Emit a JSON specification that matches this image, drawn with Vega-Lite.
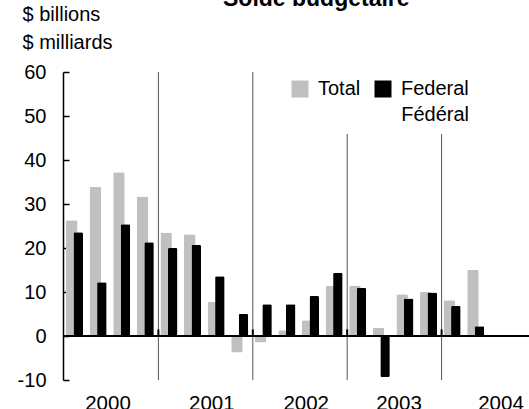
{
  "$schema": "https://vega.github.io/schema/vega-lite/v6.json",
  "autosize": {"type": "none"},
  "padding": {"left": 63, "top": 72, "right": 0, "bottom": 29},
  "width": 466,
  "height": 308,
  "config": {"font": "Liberation Sans", "view": {"stroke": null}},
  "title": {
    "text": "Solde budgétaire",
    "fontSize": 23,
    "fontWeight": "bold",
    "anchor": "start",
    "frame": "group",
    "dx": 160,
    "dy": 24,
    "baseline": "alphabetic",
    "offset": 0,
    "color": "#000000"
  },
  "data": {
    "values": [
      {"quarter": "2000Q1", "series": "Total", "value": 26.3},
      {"quarter": "2000Q1", "series": "Federal", "value": 23.6},
      {"quarter": "2000Q2", "series": "Total", "value": 33.9},
      {"quarter": "2000Q2", "series": "Federal", "value": 12.2},
      {"quarter": "2000Q3", "series": "Total", "value": 37.2},
      {"quarter": "2000Q3", "series": "Federal", "value": 25.4},
      {"quarter": "2000Q4", "series": "Total", "value": 31.7},
      {"quarter": "2000Q4", "series": "Federal", "value": 21.3},
      {"quarter": "2001Q1", "series": "Total", "value": 23.5},
      {"quarter": "2001Q1", "series": "Federal", "value": 20.0},
      {"quarter": "2001Q2", "series": "Total", "value": 23.1},
      {"quarter": "2001Q2", "series": "Federal", "value": 20.7},
      {"quarter": "2001Q3", "series": "Total", "value": 7.7},
      {"quarter": "2001Q3", "series": "Federal", "value": 13.6},
      {"quarter": "2001Q4", "series": "Total", "value": -3.75},
      {"quarter": "2001Q4", "series": "Federal", "value": 5.0},
      {"quarter": "2002Q1", "series": "Total", "value": -1.5},
      {"quarter": "2002Q1", "series": "Federal", "value": 7.2},
      {"quarter": "2002Q2", "series": "Total", "value": 1.3},
      {"quarter": "2002Q2", "series": "Federal", "value": 7.2},
      {"quarter": "2002Q3", "series": "Total", "value": 3.6},
      {"quarter": "2002Q3", "series": "Federal", "value": 9.1},
      {"quarter": "2002Q4", "series": "Total", "value": 11.4},
      {"quarter": "2002Q4", "series": "Federal", "value": 14.4},
      {"quarter": "2003Q1", "series": "Total", "value": 11.4},
      {"quarter": "2003Q1", "series": "Federal", "value": 10.9},
      {"quarter": "2003Q2", "series": "Total", "value": 1.9},
      {"quarter": "2003Q2", "series": "Federal", "value": -9.3},
      {"quarter": "2003Q3", "series": "Total", "value": 9.5},
      {"quarter": "2003Q3", "series": "Federal", "value": 8.5},
      {"quarter": "2003Q4", "series": "Total", "value": 10.0},
      {"quarter": "2003Q4", "series": "Federal", "value": 9.9},
      {"quarter": "2004Q1", "series": "Total", "value": 8.1},
      {"quarter": "2004Q1", "series": "Federal", "value": 6.8},
      {"quarter": "2004Q2", "series": "Total", "value": 15.0},
      {"quarter": "2004Q2", "series": "Federal", "value": 2.2}
    ]
  },
  "encoding": {
    "x": {
      "field": "quarter",
      "type": "nominal",
      "sort": null,
      "scale": {
        "domain": ["2000Q1","2000Q2","2000Q3","2000Q4","2001Q1","2001Q2","2001Q3","2001Q4","2002Q1","2002Q2","2002Q3","2002Q4","2003Q1","2003Q2","2003Q3","2003Q4","2004Q1","2004Q2","2004Q3","2004Q4"],
        "range": [1, 473],
        "paddingInner": 0,
        "paddingOuter": 0
      },
      "axis": {
        "title": null,
        "domain": false,
        "ticks": false,
        "labelAngle": 0,
        "labelFontSize": 20.5,
        "labelColor": "#000000",
        "labelPadding": 13,
        "labelBaseline": "top",
        "labelExpr": "indexof(datum.value, 'Q2') > 0 ? substring(datum.value, 0, 4) : ''",
        "labelOffset": {
          "condition": [
            {"test": "datum.value == '2000Q2'", "value": 8.6},
            {"test": "datum.value == '2003Q2'", "value": 16.4},
            {"test": "datum.value == '2004Q2'", "value": 24}
          ],
          "value": 18
        }
      }
    }
  },
  "layer": [
    {
      "transform": [
        {"filter": "datum.series == 'Total' && indexof(datum.quarter, 'Q1') > 0 && datum.quarter != '2000Q1'"}
      ],
      "mark": {"type": "rule", "color": "#555555", "strokeWidth": 1},
      "encoding": {
        "x": {"field": "quarter", "type": "nominal", "bandPosition": 0}
      }
    },
    {
      "transform": [{"filter": "datum.series == 'Total'"}],
      "mark": {"type": "bar", "width": 11.5, "xOffset": -4.05, "cornerRadius": 1.5},
      "encoding": {
        "y": {
          "field": "value",
          "type": "quantitative",
          "scale": {"domain": [-10, 60], "nice": false, "zero": false},
          "axis": {
            "values": [-10, 0, 10, 20, 30, 40, 50, 60],
            "labelExpr": "'' + datum.value",
            "grid": false,
            "domainColor": "#000000",
            "domainWidth": 1.5,
            "tickColor": "#000000",
            "tickWidth": 1.5,
            "tickSize": -6,
            "labelPadding": 23,
            "labelFontSize": 20,
            "labelColor": "#000000",
            "title": ["$ billions", "$ milliards"],
            "titleAngle": 0,
            "titleAlign": "left",
            "titleBaseline": "alphabetic",
            "titleX": -41,
            "titleY": -51.5,
            "titleFontSize": 20,
            "titleFontWeight": "normal",
            "titleLineHeight": 28,
            "titleColor": "#000000"
          }
        },
        "color": {
          "field": "series",
          "type": "nominal",
          "scale": {"domain": ["Total", "Federal"], "range": ["#c0c0c0", "#000000"]},
          "legend": {
            "orient": "none",
            "legendX": 218,
            "legendY": -2,
            "direction": "horizontal",
            "padding": 9,
            "fillColor": "#ffffff",
            "strokeColor": null,
            "symbolType": "square",
            "symbolSize": 289,
            "symbolStrokeWidth": 0,
            "labelFontSize": 20,
            "labelColor": "#000000",
            "labelOffset": 8,
            "labelLimit": 300,
            "columnPadding": 12,
            "title": "Fédéral",
            "titleOrient": "bottom",
            "titleAnchor": "end",
            "titleFontSize": 20,
            "titleFontWeight": "normal",
            "titleColor": "#000000",
            "titlePadding": 6
          }
        }
      }
    },
    {
      "transform": [{"filter": "datum.series == 'Federal'"}],
      "mark": {"type": "bar", "width": 9.5, "xOffset": 2.45, "cornerRadius": 1.5},
      "encoding": {
        "y": {"field": "value", "type": "quantitative"},
        "color": {"field": "series", "type": "nominal"}
      }
    },
    {
      "mark": {"type": "rule", "color": "#000000", "strokeWidth": 2},
      "encoding": {
        "y": {"datum": 0},
        "x": {"value": 0},
        "x2": {"value": 466}
      }
    },
    {
      "transform": [
        {"filter": "datum.series == 'Total' && indexof(datum.quarter, 'Q1') > 0 && datum.quarter != '2000Q1'"}
      ],
      "mark": {"type": "rule", "color": "#000000", "strokeWidth": 2},
      "encoding": {
        "x": {"field": "quarter", "type": "nominal", "bandPosition": 0},
        "y": {"datum": 0},
        "y2": {"datum": 1.5}
      }
    }
  ]
}
